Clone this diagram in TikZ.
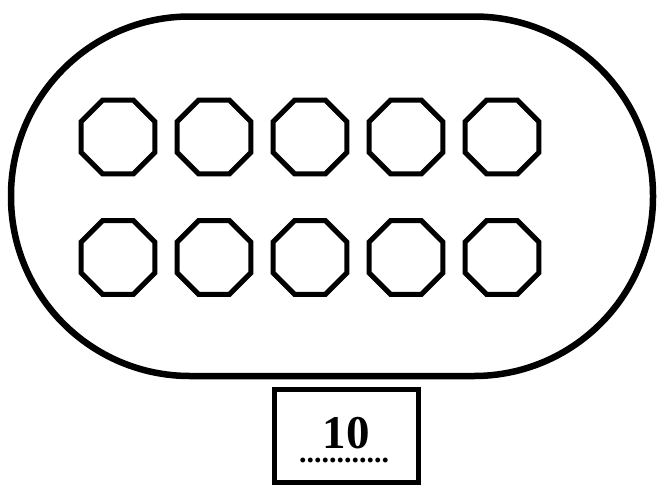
\documentclass[tikz,border=0pt]{standalone}
\usepackage{fontspec}
\setmainfont{Liberation Serif}
\usetikzlibrary{shapes.geometric}
\begin{document}
\begin{tikzpicture}[x=1pt,y=-1pt,
  octo/.style={draw, line width=5pt, regular polygon, regular polygon sides=8,
    minimum size=80pt, inner sep=0pt},
  bodyshape/.style={draw, line width=6.5pt, minimum width=642pt, minimum height=359.5pt,
    rounded corners=179pt, inner sep=0pt},
  labelbox/.style={draw, line width=5pt, minimum width=143.5pt, minimum height=93.5pt, inner sep=0pt}]
\useasboundingbox (0,0) rectangle (658,485);
\node[bodyshape] (body) at (332,196.25) {};
\foreach \i/\x in {1/118,2/214,3/310,4/406,5/502}{
  \node[octo] (a\i) at (\x,137) {};
  \node[octo] (b\i) at (\x,257.5) {};
}
\node[labelbox] (box) at (346.25,435.75) {};
\node[font=\bfseries\fontsize{47}{47}\selectfont, inner sep=0pt] (num) at (346,433) {10};
\node[font=\bfseries\fontsize{30}{30}\selectfont, inner sep=0pt, anchor=base] (dots) at (344,462) {............};
\end{tikzpicture}
\end{document}
